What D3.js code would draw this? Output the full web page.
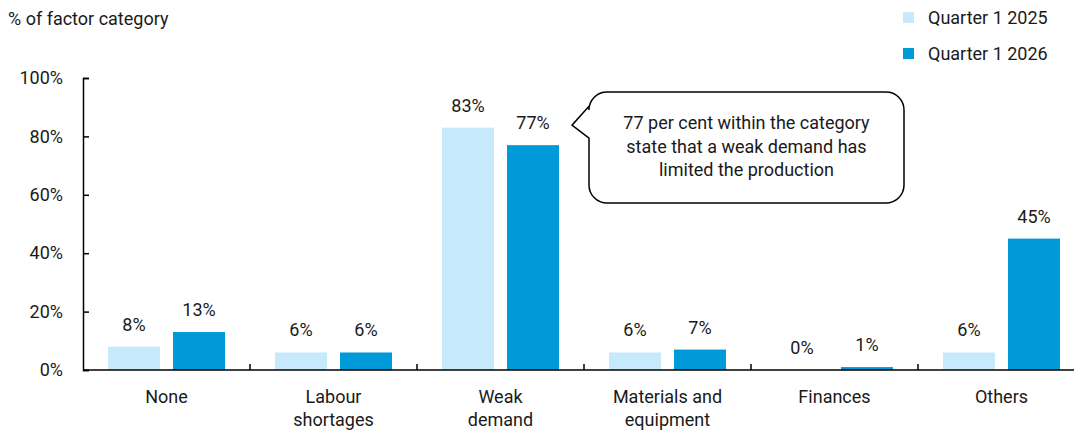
<!DOCTYPE html>
<html>
<head>
<meta charset="utf-8">
<script src="https://cdn.jsdelivr.net/npm/d3@7"></script>
<style>
  body { margin: 0; background: #fff; }
  text { font-family: Roboto, "DejaVu Sans", sans-serif; fill: #1a1a1a; }
</style>
</head>
<body>
<div id="chart"></div>
<script>
// data
var categories = [["None"], ["Labour", "shortages"], ["Weak", "demand"], ["Materials and", "equipment"], ["Finances"], ["Others"]];
var seriesNames = ["Quarter 1 2025", "Quarter 1 2026"];
var q1_2025 = [8, 6, 83, 6, 0, 6];
var q1_2026 = [13, 6, 77, 7, 1, 45];
var yTicks = [0, 20, 40, 60, 80, 100];
var colors = ["#c6eafb", "#009ad9"];
var calloutLines = ["77 per cent within the category", "state that a weak demand has", "limited the production"];

function init(){
    var w = 1074, h = 430;
    var fs = "18px";
    var svg = d3.select("#chart").append("svg")
                .attr("width", w)
                .attr("height", h);

    var left = 83, right = 1085, top = 78, bottom = 370;

    var x = d3.scaleBand()
              .domain(d3.range(categories.length))
              .range([left, right]);
    // two bars inside each category
    var inner = d3.scaleBand()
              .domain([0, 1])
              .range([25, x.bandwidth() - 25])
              .paddingInner(0.2);
    var y = d3.scaleLinear().domain([0, 100]).range([bottom, top]);

    var series = [q1_2025, q1_2026];

    // bars
    series.forEach(function(vals, s){
        svg.append("g").selectAll("rect")
            .data(vals)
            .enter()
            .append("rect")
            .attr("x", (d, i) => x(i) + inner(s))
            .attr("y", d => y(d))
            .attr("width", inner.bandwidth())
            .attr("height", d => bottom - y(d))
            .attr("fill", colors[s]);

        // value labels
        svg.append("g").selectAll("text")
            .data(vals)
            .enter()
            .append("text")
            .attr("x", (d, i) => x(i) + inner(s) + inner.bandwidth() / 2)
            .attr("y", d => y(d) - 16)
            .attr("text-anchor", "middle")
            .style("font-size", fs)
            .text(d => d + "%");
    });

    // y axis
    var yAxis = d3.axisLeft(y)
                  .tickValues(yTicks)
                  .tickSize(-6)
                  .tickPadding(20)
                  .tickFormat(d => d + "%");
    var gy = svg.append("g").attr("transform", "translate(" + left + ",0)").call(yAxis);
    gy.select(".domain").attr("stroke", "#000").attr("stroke-width", 1.5);
    gy.selectAll(".tick line").attr("stroke", "#000").attr("stroke-width", 1.5);
    gy.selectAll(".tick text").style("font-size", fs).style("font-family", "Roboto, sans-serif").attr("fill", "#1a1a1a");

    // x axis line + category ticks
    svg.append("line")
        .attr("x1", left).attr("x2", w)
        .attr("y1", bottom).attr("y2", bottom)
        .attr("stroke", "#000").attr("stroke-width", 1.5);
    svg.append("g").selectAll("line")
        .data(d3.range(1, categories.length))
        .enter()
        .append("line")
        .attr("x1", i => x(i)).attr("x2", i => x(i))
        .attr("y1", bottom - 6).attr("y2", bottom)
        .attr("stroke", "#000").attr("stroke-width", 1.5);

    // category labels
    var cl = svg.append("g").selectAll("text")
        .data(categories)
        .enter()
        .append("text")
        .attr("text-anchor", "middle")
        .attr("x", (d, i) => x(i) + x.bandwidth() / 2)
        .attr("y", 403)
        .style("font-size", fs);
    cl.selectAll("tspan")
        .data(d => d)
        .enter()
        .append("tspan")
        .attr("x", function(){ return d3.select(this.parentNode).attr("x"); })
        .attr("dy", (d, i) => i == 0 ? 0 : 23)
        .text(d => d);

    // y unit title
    svg.append("text")
        .attr("x", 8).attr("y", 25)
        .style("font-size", fs)
        .text("% of factor category");

    // legend
    var lg = svg.append("g").selectAll("g")
        .data(seriesNames)
        .enter()
        .append("g")
        .attr("transform", (d, i) => "translate(903," + (12 + i * 36) + ")");
    lg.append("rect").attr("width", 11).attr("height", 11).attr("fill", (d, i) => colors[i]);
    lg.append("text").attr("x", 25).attr("y", 12).style("font-size", fs).text(d => d);

    // callout pointing at the weak demand 2026 bar
    var tipX = x(2) + inner(1) + inner.bandwidth() + 13;
    var tipY = y(q1_2026[2]) - 20;
    var bx0 = tipX + 17, bx1 = 904, by0 = 92, by1 = 203, r = 18;
    var path = d3.path();
    path.moveTo(bx0 + r, by0);
    path.lineTo(bx1 - r, by0);
    path.arcTo(bx1, by0, bx1, by0 + r, r);
    path.lineTo(bx1, by1 - r);
    path.arcTo(bx1, by1, bx1 - r, by1, r);
    path.lineTo(bx0 + r, by1);
    path.arcTo(bx0, by1, bx0, by1 - r, r);
    path.lineTo(bx0, tipY + 13);
    path.lineTo(tipX, tipY);
    path.lineTo(bx0, tipY - 19);
    path.lineTo(bx0, by0 + r);
    path.arcTo(bx0, by0, bx0 + r, by0, r);
    path.closePath();
    svg.append("path")
        .attr("d", path.toString())
        .attr("fill", "#fff")
        .attr("stroke", "#000")
        .attr("stroke-width", 1.5);
    svg.append("g").selectAll("text")
        .data(calloutLines)
        .enter()
        .append("text")
        .attr("x", (bx0 + bx1) / 2)
        .attr("y", (d, i) => 129 + i * 23.5)
        .attr("text-anchor", "middle")
        .style("font-size", fs)
        .text(d => d);
}
window.onload = init;
</script>
</body>
</html>
